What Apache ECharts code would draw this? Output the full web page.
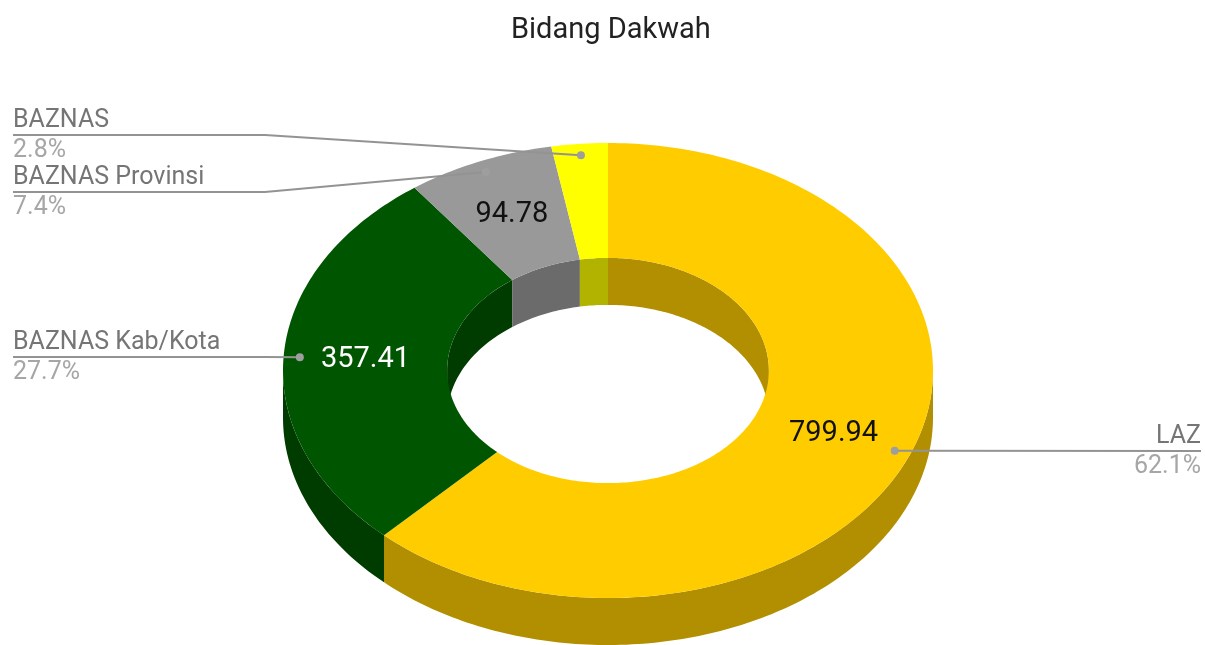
<!DOCTYPE html>
<html>
<head>
<meta charset="utf-8">
<script src="https://cdn.jsdelivr.net/npm/echarts@6/dist/echarts.min.js"></script>
<style>
html,body{margin:0;padding:0;background:#fff}
#echart{width:1205px;height:645px}
</style>
</head>
<body>
<div id="echart"></div>
<script>
// data
var names = ['LAZ', 'BAZNAS Kab/Kota', 'BAZNAS Provinsi', 'BAZNAS'];
var values = [799.94, 357.41, 94.78, 36.0];

// styles
var topColors = ['#ffcc00', '#005500', '#999999', '#ffff00'];
var sideColors = ['#b28f00', '#003b00', '#6b6b6b', '#b2b200'];
var valueColors = ['#111111', '#ffffff', '#111111', '#111111'];
var labelSide = ['right', 'left', 'left', 'left'];
var labelLineY = [451, 357, 192, 135];

// 3d donut geometry
var cx = 608, cy = 370.5, rx = 325, ry = 227.5, hole = 0.495, depth = 47;

var total = values.reduce(function (a, b) { return a + b; }, 0);
var starts = [];
var acc = 0;
values.forEach(function (v) { starts.push(acc / total * 360); acc += v; });

function pt(deg, s, dy) {
  var r = deg * Math.PI / 180;
  return [cx + rx * s * Math.sin(r), cy - ry * s * Math.cos(r) + (dy || 0)];
}
function arc(a1, a2, s, dy) {
  var pts = [];
  var n = Math.max(2, Math.ceil(Math.abs(a2 - a1)));
  for (var i = 0; i <= n; i++) pts.push(pt(a1 + (a2 - a1) * i / n, s, dy));
  return pts;
}
function band(a1, a2, s) {
  return arc(a1, a2, s, 0).concat(arc(a2, a1, s, depth));
}
function clip(a1, a2, b1, b2) {
  var l = Math.max(a1, b1), h = Math.min(a2, b2);
  return h > l ? [l, h] : null;
}
function span(params, api) {
  var i = params.dataIndex;
  var a1 = starts[i];
  return [a1, a1 + api.value(0) / total * 360];
}

function renderWalls(params, api) {
  var i = params.dataIndex;
  var s = span(params, api);
  var ch = [];
  var f = clip(s[0], s[1], 90, 270);
  if (f) ch.push({ type: 'polygon', shape: { points: band(f[0], f[1], 1) }, style: { fill: sideColors[i] } });
  [[0, 90], [270, 360]].forEach(function (r) {
    var b = clip(s[0], s[1], r[0], r[1]);
    if (b) ch.push({ type: 'polygon', shape: { points: band(b[0], b[1], hole) }, style: { fill: sideColors[i] } });
  });
  return { type: 'group', children: ch };
}

function renderTops(params, api) {
  var i = params.dataIndex;
  var s = span(params, api);
  var v = api.value(0);
  var mid = (s[0] + s[1]) / 2;
  var ch = [];
  ch.push({
    type: 'polygon',
    shape: { points: arc(s[0], s[1], 1, 0).concat(arc(s[1], s[0], hole, 0)) },
    style: { fill: topColors[i] }
  });
  // value inside slice
  if (v / total >= 0.05) {
    var c = pt(mid, (1 + hole) / 2, 0);
    ch.push({
      type: 'text',
      style: {
        text: String(v), x: c[0], y: c[1], fill: valueColors[i],
        fontSize: 29, fontFamily: 'Roboto', align: 'center', verticalAlign: 'middle'
      }
    });
  }
  // outside label with leader line
  var d = pt(mid, 0.95, 0);
  var ly = labelLineY[i];
  var line, tx, al;
  if (labelSide[i] === 'left') {
    tx = 13; al = 'left';
    line = [[13, ly], [265, ly], d];
    if (d[0] < 265) line = [[13, ly], d];
  } else {
    tx = 1201; al = 'right';
    line = [[1201, ly], d];
  }
  ch.push({ type: 'polyline', shape: { points: line }, style: { stroke: '#939393', lineWidth: 2, fill: null } });
  ch.push({ type: 'circle', shape: { cx: d[0], cy: d[1], r: 4 }, style: { fill: '#9e9e9e' } });
  ch.push({
    type: 'text',
    style: {
      text: names[i], x: tx, y: ly - 2, fill: '#757575',
      fontSize: 25, fontFamily: 'Roboto', align: al, verticalAlign: 'bottom'
    }
  });
  ch.push({
    type: 'text',
    style: {
      text: (v / total * 100).toFixed(1) + '%', x: tx, y: ly + 3, fill: '#a6a6a6',
      fontSize: 25, fontFamily: 'Roboto', align: al, verticalAlign: 'top'
    }
  });
  return { type: 'group', children: ch };
}

var seriesData = values.map(function (v, i) { return { name: names[i], value: v }; });

var myChart = echarts.init(document.getElementById('echart'));
var option = {
  animation: false,
  backgroundColor: '#ffffff',
  title: {
    text: 'Bidang Dakwah',
    left: 506,
    top: 11,
    textStyle: { fontSize: 29, fontWeight: 'normal', color: '#222222', fontFamily: 'Roboto' }
  },
  series: [
    { type: 'custom', name: 'walls', coordinateSystem: 'none', z: 1, renderItem: renderWalls, data: seriesData },
    { type: 'custom', name: 'Bidang Dakwah', coordinateSystem: 'none', z: 2, renderItem: renderTops, data: seriesData }
  ]
};
myChart.setOption(option);
</script>
</body>
</html>
